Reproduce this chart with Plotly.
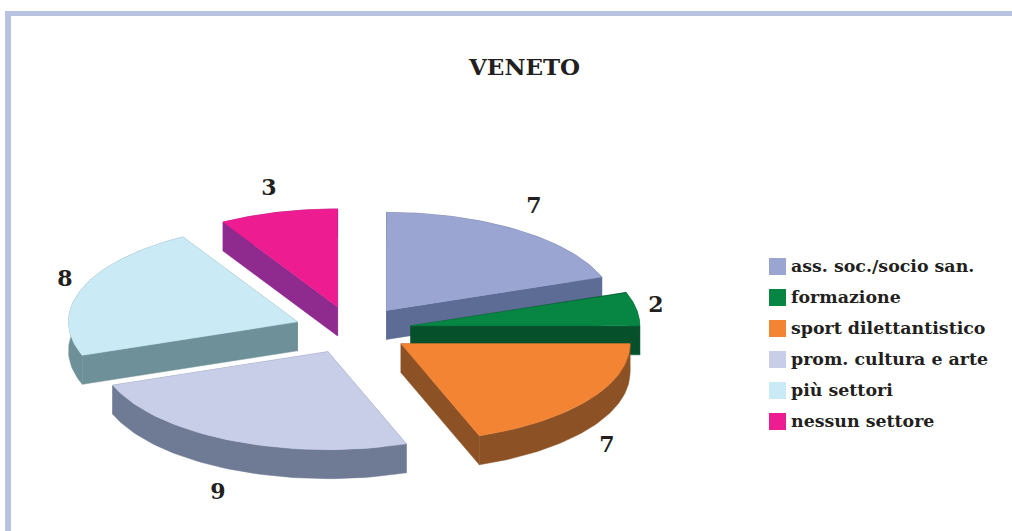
import numpy as np
import plotly.graph_objects as go

categories = ["ass. soc./socio san.", "formazione", "sport dilettantistico",
              "prom. cultura e arte", "più settori", "nessun settore"]
values = [7, 2, 7, 9, 8, 3]
top_colors = ["#9AA5D2", "#078643", "#F28433", "#C9CEE8", "#CAEAF5", "#ED1C91"]
side_colors = ["#5C6C94", "#06502B", "#8C5226", "#6F7B94", "#6E9098", "#8F2A8F"]
title_text = "VENETO"

# pie projection, in page pixels (axes map 1:1 to the page)
CX, CY, A, B, DEPTH = 352.8, 330, 229, 98, 29
EXPLODE_X, EXPLODE_Y = 0.257, 0.244
INK = "#231F20"
SERIF = "DejaVu Serif"

total = sum(values)
edges = np.concatenate([[0], np.cumsum(values)]) / total * 2 * np.pi
draw_order = [0, 1, 2, 5, 4, 3]


def poly(fig, xs, ys, color, name=None):
    fig.add_trace(go.Scatter(x=list(xs), y=list(ys), mode="lines", fill="toself",
                             fillcolor=color, line=dict(color=color, width=0.5),
                             name=name, hoverinfo="name" if name else "skip",
                             showlegend=False))


fig = go.Figure()
for i in draw_order:
    t0, t1 = edges[i], edges[i + 1]
    mid = (t0 + t1) / 2
    ax = CX + EXPLODE_X * A * np.sin(mid)
    ay = CY - EXPLODE_Y * B * np.cos(mid)
    th = np.linspace(t0, t1, 60)
    rx = ax + A * np.sin(th)
    ry = ay - B * np.cos(th)
    c = side_colors[i]
    # side walls: the two cut faces and the rim
    poly(fig, [ax, rx[0], rx[0], ax, ax], [ay, ry[0], ry[0] + DEPTH, ay + DEPTH, ay], c)
    poly(fig, [ax, rx[-1], rx[-1], ax, ax], [ay, ry[-1], ry[-1] + DEPTH, ay + DEPTH, ay], c)
    poly(fig, np.concatenate([rx, rx[::-1], rx[:1]]),
         np.concatenate([ry, ry[::-1] + DEPTH, ry[:1]]), c)
    # top face
    poly(fig, np.concatenate([[ax], rx, [ax]]), np.concatenate([[ay], ry, [ay]]),
         top_colors[i], categories[i])

# value labels
label_x = [534, 656, 607, 218, 65, 269]
label_y = [207.5, 306.5, 446.5, 493.5, 280.5, 189.5]
fig.add_trace(go.Scatter(x=label_x, y=label_y, mode="text",
                         text=[str(v) for v in values],
                         textposition="middle center",
                         textfont=dict(family=SERIF, size=22, color=INK, weight="bold"),
                         hoverinfo="skip", showlegend=False))

# key
key_y = [266.5 + 31 * n for n in range(len(categories))]
fig.add_trace(go.Scatter(x=[777.5] * len(categories), y=key_y, mode="markers",
                         marker=dict(symbol="square", size=17, color=top_colors, line=dict(width=0)),
                         hoverinfo="skip", showlegend=False))
fig.add_trace(go.Scatter(x=[791] * len(categories), y=[v + 1 for v in key_y], mode="text",
                         text=categories, textposition="middle right",
                         textfont=dict(family=SERIF, size=17.4, color=INK, weight="bold"),
                         hoverinfo="skip", showlegend=False))

fig.add_annotation(x=524, y=66, xref="x", yref="y", text="<b>%s</b>" % title_text,
                   showarrow=False, font=dict(family=SERIF, size=23, color=INK))

frame = "#B8C3E0"
fig.add_shape(type="rect", x0=5, x1=1012, y0=11, y1=16, xref="x", yref="y",
              fillcolor=frame, line=dict(width=0), layer="below")
fig.add_shape(type="rect", x0=5, x1=11, y0=11, y1=531, xref="x", yref="y",
              fillcolor=frame, line=dict(width=0), layer="below")

fig.update_layout(
    width=1012, height=531, margin=dict(l=0, r=0, t=0, b=0, autoexpand=False),
    paper_bgcolor="white", plot_bgcolor="white", showlegend=False,
    xaxis=dict(range=[0, 1012], visible=False, fixedrange=True),
    yaxis=dict(range=[531, 0], visible=False, fixedrange=True),
)
fig.write_html("out.html", config={"displayModeBar": False},
               post_script="document.body.style.margin='0';document.body.style.overflow='hidden';")
